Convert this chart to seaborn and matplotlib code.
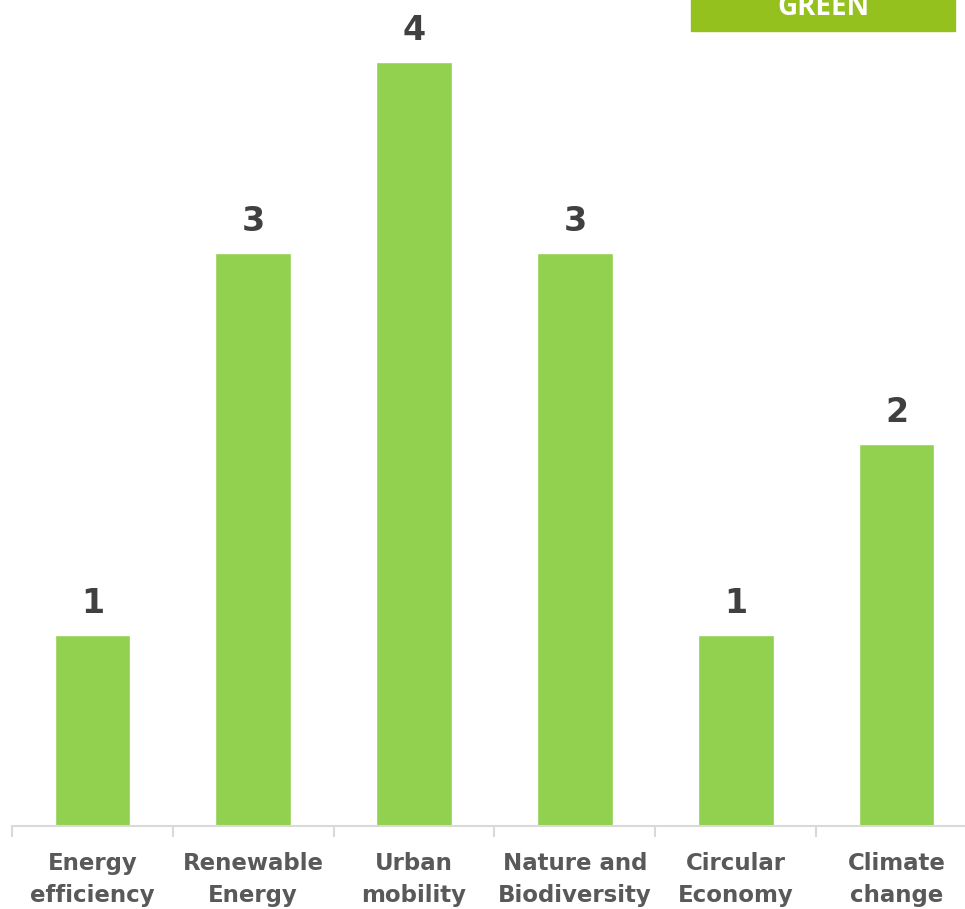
import matplotlib
matplotlib.use('Agg')
import matplotlib.pyplot as plt
import seaborn as sns
import pandas as pd
from matplotlib.patches import Rectangle

# Chart data
categories = ['Energy\nefficiency', 'Renewable\nEnergy', 'Urban\nmobility',
              'Nature and\nBiodiversity', 'Circular\nEconomy', 'Climate\nchange']
counts = [1, 3, 4, 3, 1, 2]
badge_text = 'GREEN'

sns.set_style('white')
plt.rcParams['font.family'] = ['DejaVu Sans']

df = pd.DataFrame({'category': categories, 'count': counts})

W, H = 965, 909
fig = plt.figure(figsize=(W / 100, H / 100), dpi=100)
# axes spans x 12..977 px, y baseline at 826 px up to top of image
ax = fig.add_axes([12 / W, (H - 826) / H, 965 / W, 826 / H])

sns.barplot(data=df, x='category', y='count', color='#92D050',
            saturation=1, width=0.47, ax=ax)

ax.set_ylim(0, 4.325)
ax.set_xlim(-0.5, len(categories) - 0.5)

for i, v in enumerate(counts):
    ax.annotate(str(v), (i, v), xytext=(0, 11), textcoords='offset points',
                ha='center', va='bottom', fontsize=24, fontweight='bold',
                color='#404040')

# axis styling
for s in ['top', 'right', 'left']:
    ax.spines[s].set_visible(False)
ax.spines['bottom'].set_color('#D9D9D9')
ax.spines['bottom'].set_linewidth(1.5)
ax.set_yticks([])
ax.set_xlabel('')
ax.set_ylabel('')
ax.set_xticks(range(len(categories)))
ax.set_xticklabels(categories, fontsize=16.5, fontweight='bold',
                   color='#595959', linespacing=1.5)
ax.tick_params(axis='x', which='major', bottom=True, length=0, pad=18.5)
# separator ticks between categories
ax.set_xticks([i - 0.5 for i in range(len(categories) + 1)], minor=True)
ax.tick_params(axis='x', which='minor', bottom=True, length=8, width=1.5,
               color='#D9D9D9')

# badge in top right corner
fig.patches.append(Rectangle((691 / W, (H - 31) / H), (955 - 691) / W, 40 / H,
                             transform=fig.transFigure, color='#95C11F',
                             zorder=5))
fig.text(823 / W, (H - 15) / H, badge_text, ha='center', va='baseline',
         fontsize=20, fontweight='bold', color='white',
         family=['Open Sans', 'DejaVu Sans'], zorder=6)

plt.savefig('out.png', dpi=100)
